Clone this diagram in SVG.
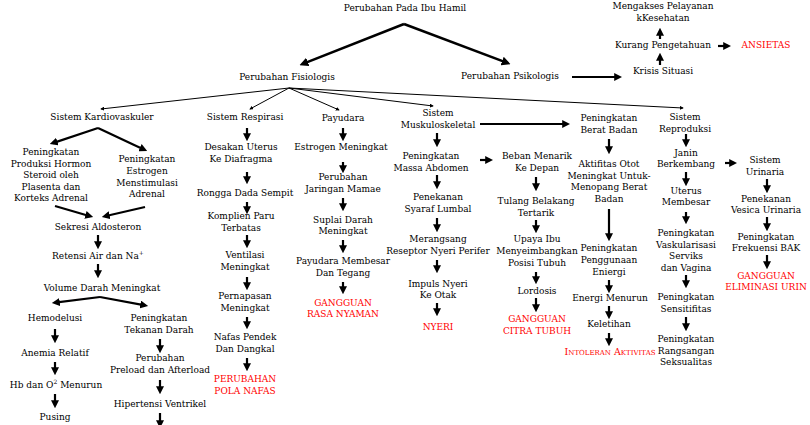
<svg xmlns="http://www.w3.org/2000/svg" width="810" height="425" viewBox="0 0 810 425">
<style>
text{font-family:"DejaVu Serif","Liberation Serif",serif;font-size:9px;text-anchor:middle;fill:#000}
.r{fill:#ff0000}
.sc{font-variant:small-caps;font-size:9.5px}
.thk{stroke:#000;stroke-width:2.2;fill:none;marker-end:url(#a)}
.big{stroke:#000;stroke-width:2.5;fill:none;marker-end:url(#b)}
.thin{stroke:#000;stroke-width:1;fill:none;marker-end:url(#s)}
</style>
<defs>
<marker id="a" viewBox="0 0 10 10" refX="6" refY="5" markerWidth="8" markerHeight="8" markerUnits="userSpaceOnUse" orient="auto"><path d="M0,0 L10,5 L0,10 z" fill="#000"/></marker>
<marker id="b" viewBox="0 0 10 10" refX="6" refY="5" markerWidth="9" markerHeight="9" markerUnits="userSpaceOnUse" orient="auto"><path d="M0,0 L10,5 L0,10 z" fill="#000"/></marker>
<marker id="s" viewBox="0 0 10 10" refX="8" refY="5" markerWidth="4" markerHeight="4" markerUnits="userSpaceOnUse" orient="auto"><path d="M0,0 L10,5 L0,10 z" fill="#000"/></marker>
</defs>
<rect width="810" height="425" fill="#fff"/>

<g id="connectors">
<path class="big" d="M404,24 L302.8,63.9"/>
<path class="big" d="M404,24 L507.2,62.9"/>
<path class="thk" d="M572,77 L619,77"/>
<path class="thk" d="M660,65 L660,56"/>
<path class="thk" d="M660,39 L660,31"/>
<path class="thk" d="M718,46 L728,46"/>
<path class="thin" d="M289,88 L101,109"/>
<path class="thin" d="M289,88 L250,109"/>
<path class="thin" d="M289,88 L339,110"/>
<path class="thin" d="M289,88 L433,106"/>
<path class="thin" d="M289,88 L683,108"/>
<path class="thk" d="M480,124 L567,124"/>
<path class="thk" d="M98,128 L52.8,143.1"/>
<path class="thk" d="M98,128 L144.3,149.7"/>
<path class="thk" d="M55,206 L90.1,216.2"/>
<path class="thk" d="M145,207 L104.9,216.3"/>
<path class="thk" d="M98,235 L98,246"/>
<path class="thk" d="M98,264 L98,275"/>
<path class="thk" d="M100,297 L55,302.6"/>
<path class="thk" d="M100,297 L145,305.4"/>
<path class="thk" d="M55,329 L55,340"/>
<path class="thk" d="M55,362 L55,372"/>
<path class="thk" d="M55,394 L55,405"/>
<path class="thk" d="M160,339 L160,350"/>
<path class="thk" d="M160,380 L160,391"/>
<path class="thk" d="M160,413 L160,425"/>
<path class="thk" d="M247,128 L247,138"/>
<path class="thk" d="M247,172 L247,181"/>
<path class="thk" d="M247,202 L247,211"/>
<path class="thk" d="M247,235 L247,245"/>
<path class="thk" d="M247,277 L247,287"/>
<path class="thk" d="M247,317 L247,326"/>
<path class="thk" d="M247,358 L247,368"/>
<path class="thk" d="M343,128 L343,138"/>
<path class="thk" d="M343,162 L343,170"/>
<path class="thk" d="M343,198 L343,208"/>
<path class="thk" d="M343,240 L343,250"/>
<path class="thk" d="M343,282 L343,291"/>
<path class="thk" d="M437,133 L437,144"/>
<path class="thk" d="M437,175 L437,186"/>
<path class="thk" d="M437,218 L437,229"/>
<path class="thk" d="M437,260 L437,270"/>
<path class="thk" d="M437,303 L437,313"/>
<path class="thk" d="M480,160 L490,160"/>
<path class="thk" d="M536,177 L536,188"/>
<path class="thk" d="M536,220 L536,230"/>
<path class="thk" d="M536,272 L536,281"/>
<path class="thk" d="M536,298 L536,309"/>
<path class="thk" d="M609,139 L609,151"/>
<path class="thk" d="M609,209 L609,238"/>
<path class="thk" d="M609,280 L609,290"/>
<path class="thk" d="M609,306 L609,316"/>
<path class="thk" d="M609,333 L609,343"/>
<path class="thk" d="M686,134 L686,144"/>
<path class="thk" d="M686,172 L686,183"/>
<path class="thk" d="M686,212 L686,221"/>
<path class="thk" d="M686,275 L686,285"/>
<path class="thk" d="M686,317 L686,328"/>
<path class="thk" d="M725,163 L734,163"/>
<path class="thk" d="M767,179 L767,190"/>
<path class="thk" d="M767,217 L767,228"/>
<path class="thk" d="M767,255 L767,266"/>
</g>

<g id="n_root"><text x="405" y="11">Perubahan Pada Ibu Hamil</text></g>
<g id="n_fis"><text x="287" y="80">Perubahan Fisiologis</text></g>
<g id="n_psi"><text x="510" y="79">Perubahan Psikologis</text></g>
<g id="n_krisis"><text x="663" y="74">Krisis Situasi</text></g>
<g id="n_kurang"><text x="663" y="48">Kurang Pengetahuan</text></g>
<g id="n_akses"><text x="663" y="9">Mengakses Pelayanan<tspan x="663" dy="11.5">kKesehatan</tspan></text></g>
<g id="n_ansietas"><text class="r" x="766" y="48">ANSIETAS</text></g>

<g id="n_kardio"><text x="102" y="120">Sistem Kardiovaskuler</text></g>
<g id="n_resp"><text x="245" y="120">Sistem Respirasi</text></g>
<g id="n_payu"><text x="343" y="121">Payudara</text></g>
<g id="n_musk"><text x="438" y="116">Sistem<tspan x="438" dy="11.5">Muskuloskeletal</tspan></text></g>
<g id="n_bb"><text x="609" y="121">Peningkatan<tspan x="609" dy="11.5">Berat Badan</tspan></text></g>
<g id="n_repro"><text x="685" y="120">Sistem<tspan x="685" dy="11.5">Reproduksi</tspan></text></g>

<g id="n_k1"><text x="51" y="155">Peningkatan<tspan x="51" dy="11.5">Produksi Hormon</tspan><tspan x="51" dy="11.5">Steroid oleh</tspan><tspan x="51" dy="11.5">Plasenta dan</tspan><tspan x="51" dy="11.5">Korteks Adrenal</tspan></text></g>
<g id="n_k2"><text x="147" y="162">Peningkatan<tspan x="147" dy="11.8">Estrogen</tspan><tspan x="147" dy="11.8">Menstimulasi</tspan><tspan x="147" dy="11.8">Adrenal</tspan></text></g>
<g id="n_aldo"><text x="98" y="230">Sekresi Aldosteron</text></g>
<g id="n_retensi"><text x="98" y="259">Retensi Air dan Na<tspan dy="-4" font-size="6">+</tspan></text></g>
<g id="n_volume"><text x="102" y="291">Volume Darah Meningkat</text></g>
<g id="n_hemo"><text x="55" y="321">Hemodelusi</text></g>
<g id="n_anemia"><text x="55" y="356">Anemia Relatif</text></g>
<g id="n_hb"><text x="56" y="388">Hb dan O<tspan dy="-4" font-size="6">2</tspan><tspan dy="4">  Menurun</tspan></text></g>
<g id="n_pusing"><text x="55" y="420">Pusing</text></g>
<g id="n_tekanan"><text x="159" y="321">Peningkatan<tspan x="159" dy="11.5">Tekanan Darah</tspan></text></g>
<g id="n_preload"><text x="160" y="361">Perubahan<tspan x="160" dy="11.5">Preload dan Afterload</tspan></text></g>
<g id="n_hiper"><text x="160" y="407">Hipertensi Ventrikel</text></g>

<g id="n_r1"><text x="241" y="150">Desakan Uterus<tspan x="241" dy="11.5">Ke Diafragma</tspan></text></g>
<g id="n_r2"><text x="245" y="196">Rongga Dada Sempit</text></g>
<g id="n_r3"><text x="241" y="219">Komplien Paru<tspan x="241" dy="11.5">Terbatas</tspan></text></g>
<g id="n_r4"><text x="245" y="258">Ventilasi<tspan x="245" dy="11.5">Meningkat</tspan></text></g>
<g id="n_r5"><text x="245" y="299">Pernapasan<tspan x="245" dy="11.5">Meningkat</tspan></text></g>
<g id="n_r6"><text x="245" y="340">Nafas Pendek<tspan x="245" dy="11.5">Dan Dangkal</tspan></text></g>
<g id="n_r7"><text class="r" x="245" y="382">PERUBAHAN<tspan x="245" dy="11.5">POLA NAFAS</tspan></text></g>

<g id="n_p1"><text x="341" y="150">Estrogen Meningkat</text></g>
<g id="n_p2"><text x="343" y="180">Perubahan<tspan x="343" dy="11.5">Jaringan Mamae</tspan></text></g>
<g id="n_p3"><text x="343" y="223">Suplai Darah<tspan x="343" dy="11">Meningkat</tspan></text></g>
<g id="n_p4"><text x="343" y="264">Payudara Membesar<tspan x="343" dy="11.5">Dan Tegang</tspan></text></g>
<g id="n_p5"><text class="r" x="343" y="306">GANGGUAN<tspan x="343" dy="11">RASA NYAMAN</tspan></text></g>

<g id="n_m1"><text x="431" y="159">Peningkatan<tspan x="431" dy="11.5">Massa Abdomen</tspan></text></g>
<g id="n_m2"><text x="438" y="200">Penekanan<tspan x="438" dy="11.5">Syaraf Lumbal</tspan></text></g>
<g id="n_m3"><text x="438" y="242">Merangsang<tspan x="438" dy="11.5">Reseptor Nyeri Perifer</tspan></text></g>
<g id="n_m4"><text x="438" y="287">Impuls Nyeri<tspan x="438" dy="11">Ke Otak</tspan></text></g>
<g id="n_m5"><text class="r" x="438" y="330">NYERI</text></g>

<g id="n_b1"><text x="537" y="159">Beban Menarik<tspan x="537" dy="11.5">Ke Depan</tspan></text></g>
<g id="n_b2"><text x="536" y="204">Tulang Belakang<tspan x="536" dy="11.5">Tertarik</tspan></text></g>
<g id="n_b3"><text x="537" y="242">Upaya Ibu<tspan x="537" dy="11.8">Menyeimbangkan</tspan><tspan x="537" dy="11.8">Posisi Tubuh</tspan></text></g>
<g id="n_b4"><text x="537" y="294">Lordosis</text></g>
<g id="n_b5"><text class="r" x="537" y="322">GANGGUAN<tspan x="537" dy="11.5">CITRA TUBUH</tspan></text></g>

<g id="n_w1"><text x="609" y="167">Aktifitas Otot<tspan x="609" dy="11.5">Meningkat Untuk-</tspan><tspan x="609" dy="11.5">Menopang Berat</tspan><tspan x="609" dy="11.5">Badan</tspan></text></g>
<g id="n_w2"><text x="609" y="251">Peningkatan<tspan x="609" dy="12">Penggunaan</tspan><tspan x="609" dy="12">Eniergi</tspan></text></g>
<g id="n_w3"><text x="610" y="301">Energi Menurun</text></g>
<g id="n_w4"><text x="609" y="327">Keletihan</text></g>
<g id="n_w5"><text class="r sc" x="610" y="355">Intoleran Aktivitas</text></g>

<g id="n_j1"><text x="686" y="156">Janin<tspan x="686" dy="11">Berkembang</tspan></text></g>
<g id="n_j2"><text x="686" y="194">Uterus<tspan x="686" dy="11">Membesar</tspan></text></g>
<g id="n_j3"><text x="686" y="236">Peningkatan<tspan x="686" dy="11.7">Vaskularisasi</tspan><tspan x="686" dy="11.7">Serviks</tspan><tspan x="686" dy="11.7">dan Vagina</tspan></text></g>
<g id="n_j4"><text x="686" y="300">Peningkatan<tspan x="686" dy="11.5">Sensitifitas</tspan></text></g>
<g id="n_j5"><text x="686" y="342">Peningkatan<tspan x="686" dy="11.7">Rangsangan</tspan><tspan x="686" dy="11.7">Seksualitas</tspan></text></g>

<g id="n_u1"><text x="765" y="163">Sistem<tspan x="765" dy="11.5">Urinaria</tspan></text></g>
<g id="n_u2"><text x="766" y="202">Penekanan<tspan x="766" dy="11">Vesica Urinaria</tspan></text></g>
<g id="n_u3"><text x="766" y="240">Peningkatan<tspan x="766" dy="11">Frekuensi BAK</tspan></text></g>
<g id="n_u4"><text class="r" x="766" y="279">GANGGUAN<tspan x="766" dy="11">ELIMINASI URIN</tspan></text></g>
</svg>
